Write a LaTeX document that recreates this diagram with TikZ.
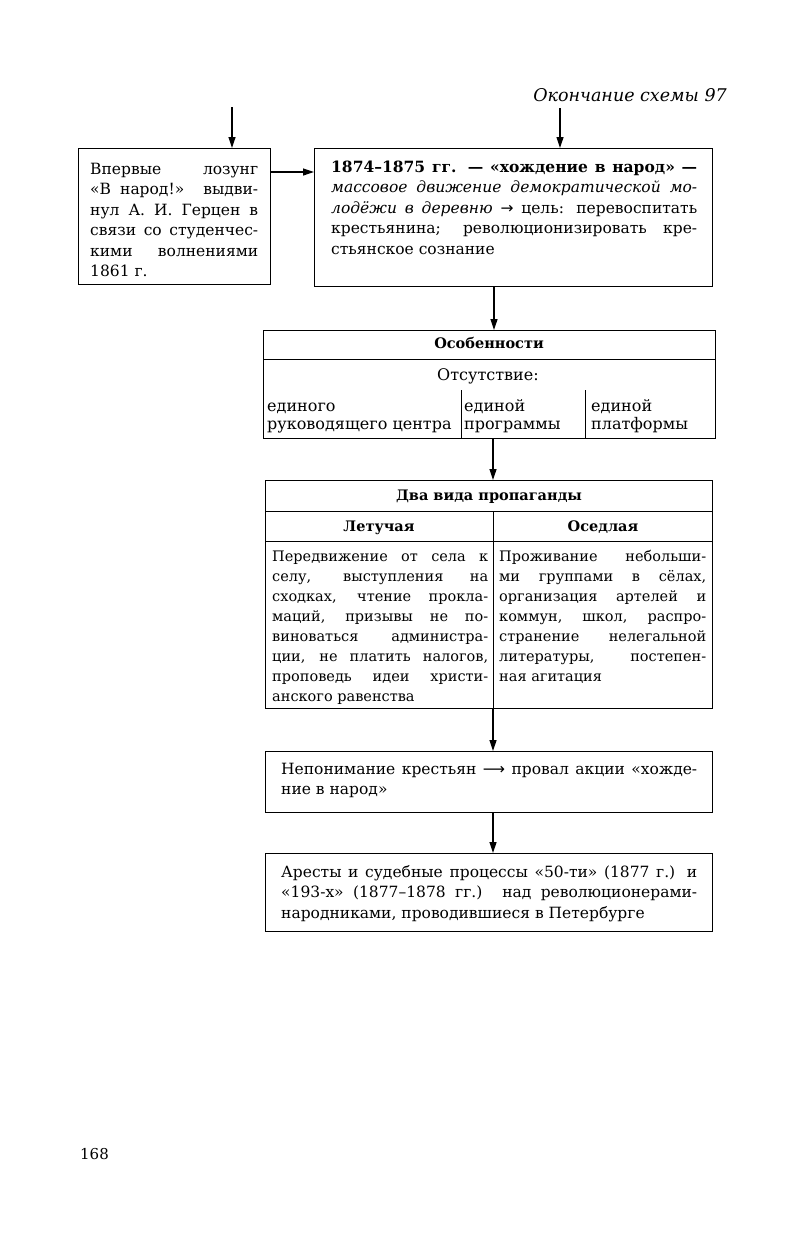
\documentclass[tikz,border=0pt]{standalone}
\usepackage{fontspec}
\setmainfont{DejaVu Serif}
\newfontfamily\arrfont{DejaVu Sans}
\usetikzlibrary{arrows.meta}
\begin{document}
\begin{tikzpicture}[x=1pt,y=-1pt,
  box/.style={draw, line width=1.4pt, anchor=north west, inner sep=0pt, rectangle},
  rule/.style={line width=0.9pt},
  arr/.style={line width=1.2pt, -{Triangle[length=11pt,width=7pt]}},
  txt/.style={anchor=base west, inner sep=0pt, align=justify, font=\fontsize{15.5}{20.5}\selectfont},
  ctr/.style={anchor=base, inner sep=0pt, font=\fontsize{16}{18}\selectfont},
  hd/.style={anchor=base, inner sep=0pt, font=\fontsize{14.5}{16}\selectfont\bfseries},
  col/.style={anchor=base west, inner sep=0pt, align=left, font=\fontsize{16}{18}\selectfont}]
\fill[white] (0,0) rectangle (791,1245);
\useasboundingbox (0,0) rectangle (791,1245);

% caption
\node[anchor=base east, inner sep=0pt, font=\fontsize{17.5}{20}\selectfont\itshape] (cap) at (727,101) {Окончание схемы 97};

% boxes
\node[box, minimum width=192pt, minimum height=136pt] (boxA) at (78,148) {};
\node[box, minimum width=398pt, minimum height=138pt] (boxB) at (314,148) {};
\node[box, minimum width=452pt, minimum height=108pt] (boxC) at (263,330) {};
\node[box, minimum width=447pt, minimum height=228pt] (boxD) at (265,480) {};
\node[box, minimum width=447pt, minimum height=61pt] (boxE) at (265,751) {};
\node[box, minimum width=447pt, minimum height=78pt] (boxF) at (265,853) {};

% texts
\node[txt, text width=168pt] (tA) at (90,174) {Впервые лозунг\linebreak «В народ!» выдви-\linebreak нул А. И. Герцен в\linebreak связи со студенчес-\linebreak кими волнениями\linebreak 1861 г.};
\node[txt, text width=366pt] (tB) at (331,172) {\textbf{1874–1875 гг. — «хождение в народ» —}\linebreak \textit{массовое движение демократической мо-}\linebreak \textit{лодёжи в деревню} {\arrfont →} цель: перевоспитать\linebreak крестьянина; революционизировать кре-\linebreak стьянское сознание};

\node[hd] (hC) at (489,348) {Особенности};
\draw[rule] (boxC.west |- 0,359) -- (boxC.east |- 0,359);
\node[ctr] (absent) at (488,380) {Отсутствие:};
\draw[rule] (461,390) -- (boxC.south -| 461,0);
\draw[rule] (585,390) -- (boxC.south -| 585,0);
\node[col] (c1) at (267,429) {единого\\руководящего центра};
\node[col] (c2) at (464,429) {единой\\программы};
\node[col] (c3) at (591,429) {единой\\платформы};

\node[hd] (hD) at (489,500) {Два вида пропаганды};
\draw[rule] (boxD.west |- 0,511) -- (boxD.east |- 0,511);
\draw[rule] (boxD.west |- 0,541) -- (boxD.east |- 0,541);
\draw[rule] (493,511) -- (boxD.south -| 493,0);
\node[hd] (hL) at (379,531) {Летучая};
\node[hd] (hR) at (603,531) {Оседлая};
\node[txt, text width=216pt, font=\fontsize{14.5}{20}\selectfont] (tL) at (272,561) {Передвижение от села к\linebreak селу, выступления на\linebreak сходках, чтение прокла-\linebreak маций, призывы не по-\linebreak виноваться администра-\linebreak ции, не платить налогов,\linebreak проповедь идеи христи-\linebreak анского равенства};
\node[txt, text width=207pt, font=\fontsize{14.5}{20}\selectfont] (tR) at (499,561) {Проживание небольши-\linebreak ми группами в сёлах,\linebreak организация артелей и\linebreak коммун, школ, распро-\linebreak странение нелегальной\linebreak литературы, постепен-\linebreak ная агитация};

\node[txt, text width=416pt] (tE) at (281,774) {Непонимание крестьян {\arrfont ⟶} провал акции «хожде-\linebreak ние в народ»};
\node[txt, text width=416pt] (tF) at (281,877) {Аресты и судебные процессы «50-ти» (1877 г.) и\linebreak «193-х» (1877–1878 гг.) над революционерами-\linebreak народниками, проводившиеся в Петербурге};

\node[anchor=base west, inner sep=0pt, font=\fontsize{15}{16}\selectfont] (page) at (80,1159) {168};

% connectors
\coordinate (inA) at (232,107);
\coordinate (inB) at (560,108);
\coordinate (ab) at (270,172);
\draw[arr] (inA) -- (inA |- boxA.north);
\draw[arr] (inB) -- (inB |- boxB.north);
\draw[arr] (ab) -- (ab -| boxB.west);
\draw[arr] (boxB.south -| 494,0) -- (boxC.north -| 494,0);
\draw[arr] (boxC.south -| 493,0) -- (boxD.north -| 493,0);
\draw[arr] (boxD.south -| 493,0) -- (boxE.north -| 493,0);
\draw[arr] (boxE.south -| 493,0) -- (boxF.north -| 493,0);
\end{tikzpicture}
\end{document}
